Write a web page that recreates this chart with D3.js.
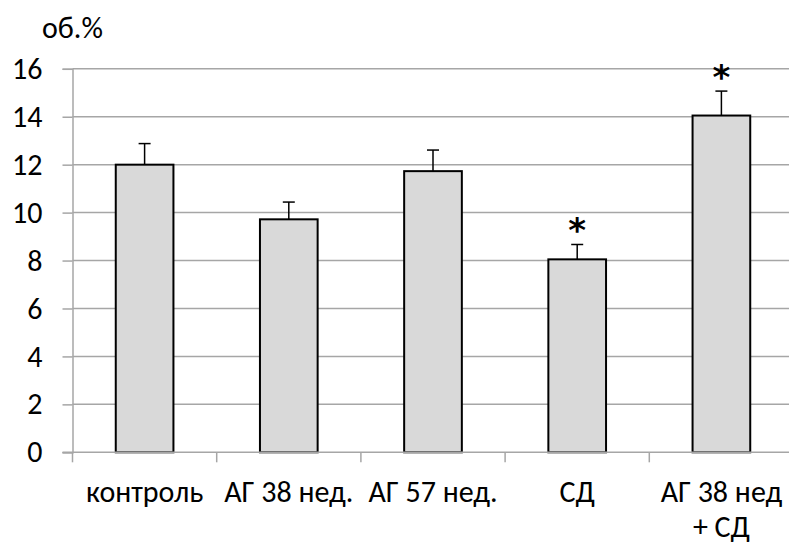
<!DOCTYPE html>
<html>
<head>
<meta charset="utf-8">
<script src="https://cdn.jsdelivr.net/npm/d3@7"></script>
<style>
  body { margin: 0; background: #fff; }
  text { font-family: Carlito, Calibri, Lato, sans-serif; fill: #000; }
</style>
</head>
<body>
<svg width="789" height="545"></svg>
<script>
// chart data
const categories = ['контроль', 'АГ 38 нед.', 'АГ 57 нед.', 'СД', 'АГ 38 нед|+ СД'];
const values = [12.0, 9.72, 11.73, 8.05, 14.05];
const errors = [0.88, 0.72, 0.88, 0.62, 1.02];
const marked = [false, false, false, true, true]; // significance asterisk
const yTicks = [0, 2, 4, 6, 8, 10, 12, 14, 16];

const svg = d3.select('svg');
const plotLeft = 72.5, plotRight = 793.5, plotTop = 68.8, plotBottom = 452.3;
const fontSize = 30;

const x = d3.scaleBand()
    .domain(categories)
    .range([plotLeft, plotRight]);

const y = d3.scaleLinear()
    .domain([0, 16])
    .range([plotBottom, plotTop]);

const barW = x.step() * 0.4;

// horizontal gridlines
svg.append('g')
    .selectAll('line')
    .data(yTicks.filter(d => d > 0))
    .enter().append('line')
    .attr('x1', plotLeft).attr('x2', 789)
    .attr('y1', d => y(d)).attr('y2', d => y(d))
    .attr('stroke', '#a6a6a6')
    .attr('stroke-width', 1.5);

// bars
svg.append('g')
    .selectAll('rect')
    .data(categories)
    .enter().append('rect')
    .attr('x', (d) => x(d) + (x.step() - barW) / 2)
    .attr('width', barW)
    .attr('y', (d, i) => y(values[i]))
    .attr('height', (d, i) => y(0) - y(values[i]))
    .attr('fill', '#d9d9d9')
    .attr('stroke', '#000')
    .attr('stroke-width', 2);

// error bars (upper half only)
const err = svg.append('g').attr('stroke', '#000').attr('stroke-width', 1.5);
categories.forEach((c, i) => {
    const cx = x(c) + x.step() / 2;
    err.append('line')
        .attr('x1', cx).attr('x2', cx)
        .attr('y1', y(values[i])).attr('y2', y(values[i] + errors[i]));
    err.append('line')
        .attr('x1', cx - 6).attr('x2', cx + 6)
        .attr('y1', y(values[i] + errors[i])).attr('y2', y(values[i] + errors[i]));
    if (marked[i]) {
        svg.append('text')
            .attr('x', cx)
            .attr('y', y(values[i] + errors[i]) - 2)
            .attr('text-anchor', 'middle')
            .style('font-family', '"DejaVu Sans", sans-serif')
            .style('font-size', '34px')
            .style('font-weight', 'bold')
            .text('*');
    }
});

// y axis
const yAxis = svg.append('g')
    .attr('transform', 'translate(' + plotLeft + ',0)')
    .call(d3.axisLeft(y).tickValues(yTicks).tickSize(10).tickPadding(20));
yAxis.select('.domain').attr('stroke', '#a6a6a6').attr('stroke-width', 1.5);
yAxis.selectAll('.tick line').attr('stroke', '#a6a6a6').attr('stroke-width', 1.5);
yAxis.selectAll('.tick text')
    .attr('x', -30)
    .style('font-size', fontSize + 'px')
    .style('font-family', 'Carlito, Calibri, Lato, sans-serif');

// x axis line with category boundary ticks
const xAxis = svg.append('g');
xAxis.append('line')
    .attr('x1', plotLeft - 10).attr('x2', 789)
    .attr('y1', plotBottom).attr('y2', plotBottom)
    .attr('stroke', '#a6a6a6').attr('stroke-width', 1.5);
xAxis.selectAll('line.tk')
    .data(categories)
    .enter().append('line')
    .attr('class', 'tk')
    .attr('x1', d => x(d)).attr('x2', d => x(d))
    .attr('y1', plotBottom).attr('y2', plotBottom + 10)
    .attr('stroke', '#a6a6a6').attr('stroke-width', 1.5);

// category labels
const labels = svg.append('g')
    .selectAll('text')
    .data(categories)
    .enter().append('text')
    .attr('text-anchor', 'middle')
    .style('font-size', fontSize + 'px');
labels.each(function(d) {
    const parts = d.split('|');
    const t = d3.select(this);
    const cx = x(d) + x.step() / 2;
    parts.forEach((p, j) => {
        t.append('tspan')
            .attr('x', cx)
            .attr('y', 502 + j * 35)
            .text(p);
    });
});

// unit label
svg.append('text')
    .attr('x', 42)
    .attr('y', 38)
    .style('font-size', fontSize + 'px')
    .text('об.%');
</script>
</body>
</html>
